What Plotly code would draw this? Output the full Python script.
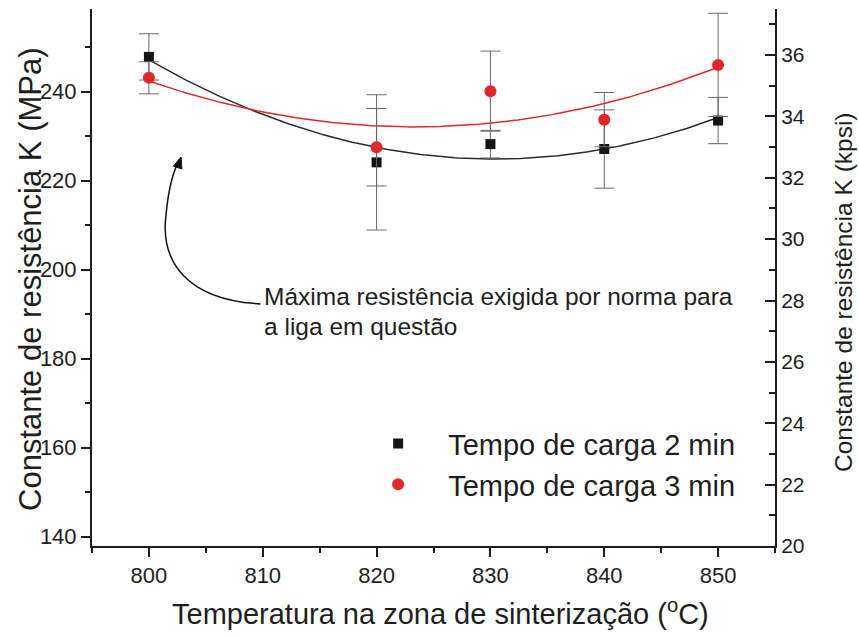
import numpy as np
import plotly.graph_objects as go

# Sintering temperature (°C)
temperatura = [800, 820, 830, 840, 850]

# Resistance constant K (MPa) and its standard deviation
k_2min = [247.8, 224.1, 228.2, 227.1, 233.5]
err_2min = [5.2, 15.2, 3.1, 8.8, 5.2]
k_3min = [243.1, 227.5, 240.1, 233.7, 246.0]
err_3min = [3.6, 8.7, 9.0, 6.1, 11.6]

series_names = ["Tempo de carga 2 min", "Tempo de carga 3 min"]

MPA_PER_KPSI = 6.895

FONT = "Arial, 'Liberation Sans', sans-serif"
BLACK = "#151515"
RED = "#e0282a"
ERR = "#6a6a6a"
INK = "#1e1e1e"

# plot-area extents (the kpsi axis is the MPa axis rescaled)
Y_KPSI = [20.0, 37.5]
Y_MPA = [Y_KPSI[0] * MPA_PER_KPSI, Y_KPSI[1] * MPA_PER_KPSI]
X_RANGE = [795, 855]

fig = go.Figure()

# second-order fits through each series
xs = np.linspace(min(temperatura), max(temperatura), 200)
for ys, col in [(k_2min, "#2a2a2a"), (k_3min, RED)]:
    coef = np.polyfit(temperatura, ys, 2)
    fig.add_trace(go.Scatter(x=xs, y=np.polyval(coef, xs), mode="lines",
                             line=dict(color=col, width=1.5),
                             showlegend=False, hoverinfo="skip"))

fig.add_trace(go.Scatter(
    x=temperatura, y=k_2min, mode="markers", name=series_names[0],
    marker=dict(symbol="square", size=10, color=BLACK),
    error_y=dict(type="data", array=err_2min, color=ERR, thickness=1, width=10),
    legendgroup="a"))
fig.add_trace(go.Scatter(
    x=temperatura, y=k_3min, mode="markers", name=series_names[1],
    marker=dict(symbol="circle", size=12, color=RED),
    error_y=dict(type="data", array=err_3min, color=ERR, thickness=1, width=10),
    legendgroup="b"))

# same values expressed in kpsi, carried on the secondary axis (invisible)
fig.add_trace(go.Scatter(
    x=temperatura, y=[v / MPA_PER_KPSI for v in k_3min], yaxis="y2",
    mode="markers", marker=dict(opacity=0), showlegend=False,
    hoverinfo="skip"))

axis_common = dict(showline=True, linecolor=INK, linewidth=2,
                   showgrid=False, zeroline=False,
                   tickcolor=INK, tickwidth=1.5)

fig.update_layout(
    width=859, height=636,
    margin=dict(l=92, r=84, t=9, b=90),
    paper_bgcolor="white", plot_bgcolor="white",
    showlegend=True,
    legend=dict(x=0.375, y=0.238, xanchor="left", yanchor="top",
                font=dict(family=FONT, size=29, color=INK),
                itemwidth=90, tracegroupgap=0, bgcolor="rgba(0,0,0,0)"),
    xaxis=dict(range=X_RANGE, tickmode="linear", tick0=800, dtick=10,
               ticks="outside", ticklen=9,
               tickfont=dict(family=FONT, size=22, color=INK),
               minor=dict(dtick=5, tick0=800, ticks="outside", ticklen=5,
                          tickcolor=INK),
               **axis_common),
    yaxis=dict(range=Y_MPA, tickmode="linear", tick0=140, dtick=20,
               ticks="outside", ticklen=9,
               tickfont=dict(family=FONT, size=22, color=INK),
               minor=dict(dtick=10, tick0=140, ticks="outside", ticklen=5,
                          tickcolor=INK),
               **axis_common),
    yaxis2=dict(range=Y_KPSI, overlaying="y", side="right", anchor="x",
                tickmode="linear", tick0=20, dtick=2,
                ticks="inside", ticklen=10,
                tickfont=dict(family=FONT, size=21, color=INK),
                minor=dict(dtick=1, tick0=20, ticks="inside", ticklen=6,
                           tickcolor=INK),
                **axis_common),
)

# axis titles
fig.add_annotation(text="Constante de resistência K (MPa)", textangle=-90,
                   xref="paper", yref="paper", x=-0.091, y=0.497,
                   xanchor="center", yanchor="middle",
                   showarrow=False, font=dict(family=FONT, size=31, color=INK))
fig.add_annotation(text="Constante de resistência K (kpsi)", textangle=-90,
                   xref="paper", yref="paper", x=1.101, y=0.473,
                   xanchor="center", yanchor="middle",
                   showarrow=False, font=dict(family=FONT, size=24.5, color=INK))
fig.add_annotation(text="Temperatura na zona de sinterização (<sup>o</sup>C)",
                   xref="paper", yref="paper", x=0.51, y=-0.123,
                   xanchor="center", yanchor="middle",
                   showarrow=False, font=dict(family=FONT, size=29, color=INK))

# note about the standard limit, with a curved pointer
fig.add_annotation(text="Máxima resistência exigida por norma para",
                   x=809.9, y=193.9, xanchor="left", yanchor="middle",
                   showarrow=False, font=dict(family=FONT, size=24.5, color=INK))
fig.add_annotation(text="a liga em questão",
                   x=809.9, y=187.2, xanchor="left", yanchor="middle",
                   showarrow=False, font=dict(family=FONT, size=24.5, color=INK))
fig.add_shape(type="path",
              path="M 809.8,192.3 C 803.2,193.2 801.0,202.1 801.5,212.2 "
                   "C 801.7,217.8 802.1,222.3 802.8,225.2",
              line=dict(color="#111", width=1.5))
fig.add_shape(type="path",
              path="M 802.82,225.28 L 802.90,222.61 L 802.14,223.24 Z",
              fillcolor="#111", line=dict(color="#111", width=1))

fig.write_html("out.html")
